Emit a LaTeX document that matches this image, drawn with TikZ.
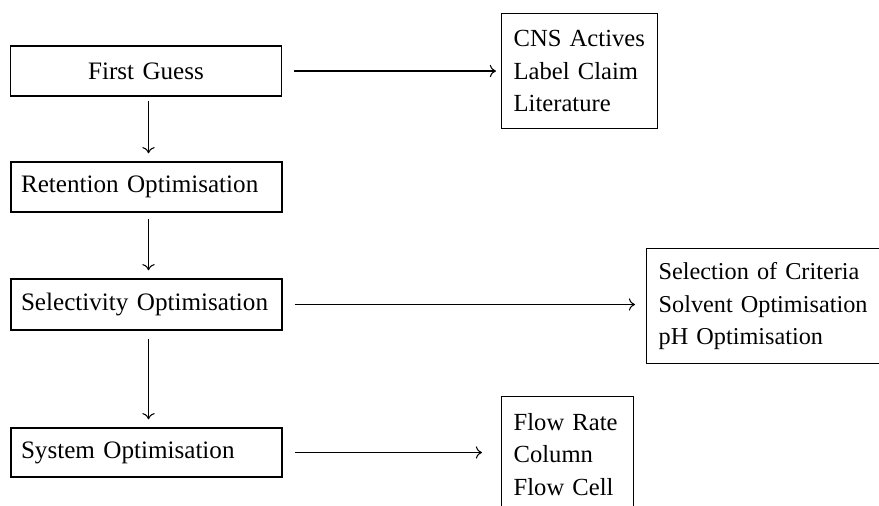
\documentclass[tikz,border=0pt]{standalone}
\usepackage{fontspec}
\setmainfont{Liberation Serif}
\usepackage{tikz}
\usetikzlibrary{positioning,calc,arrows.meta}
\tikzset{
    stage/.style={rectangle, draw=black, line width=0.8pt, minimum width=5.42cm, minimum height=1cm, inner xsep=0.2cm, text width=5.02cm, align=left, font=\fontsize{14.3}{18.5}\selectfont},
    stageC/.style={stage, align=center},
    detail/.style={rectangle, draw=black, line width=0.8pt, anchor=north west, minimum height=2.3cm, inner xsep=0.24cm, align=left, font=\fontsize{14}{18.5}\selectfont},
    flow/.style={line width=0.6pt, -{To[length=3.5pt,width=7pt]}},
}

\begin{document}
\hyphenpenalty=10000
\hfuzz=20pt
\begin{tikzpicture}[x=0.02cm, y=-0.02cm]
    \useasboundingbox (0,0) rectangle (879,505);
    \clip (0,0) rectangle (879,505);

    % Main stages
    \node[stageC] (guess) at (146,71) {First Guess};
    \node[stage] (ret) at (146.5,187) {Retention Optimisation};
    \node[stage, minimum height=1.02cm] (sel) at (146.5,304.5) {Selectivity Optimisation};
    \node[stage, minimum height=0.98cm] (sys) at (146.5,452.5) {System Optimisation};

    % Details
    \node[detail, text width=2.64cm] (cns) at (501,13) {CNS~Actives\\Label~Claim\\Literature};
    \node[detail, text width=4.9cm, font=\fontsize{13.8}{18.5}\selectfont] (crit) at (646,248) {Selection of Criteria\\Solvent Optimisation\\pH Optimisation};
    \node[detail, text width=2.16cm] (rate) at (501,396) {Flow~Rate\\Column\\Flow~Cell};

    % Arrows down
    \draw[flow, shorten <=0.08cm, shorten >=0.16cm] ([xshift=0.05cm]guess.south) -- ([xshift=0.05cm]guess.south |- ret.north);
    \draw[flow, shorten <=0.12cm, shorten >=0.16cm] ([xshift=0.04cm]ret.south) -- ([xshift=0.04cm]ret.south |- sel.north);
    \draw[flow, shorten <=0.16cm, shorten >=0.16cm] ([xshift=0.04cm]sel.south) -- ([xshift=0.04cm]sel.south |- sys.north);

    % Arrows across
    \draw[flow, shorten <=0.24cm, shorten >=0.1cm] (guess.east) -- (guess.east -| cns.west);
    \draw[flow, shorten <=0.24cm, shorten >=0.22cm] (sel.east) -- (sel.east -| crit.west);
    \draw[flow, shorten <=0.24cm, shorten >=0.38cm] (sys.east) -- (sys.east -| rate.west);
\end{tikzpicture}
\end{document}
